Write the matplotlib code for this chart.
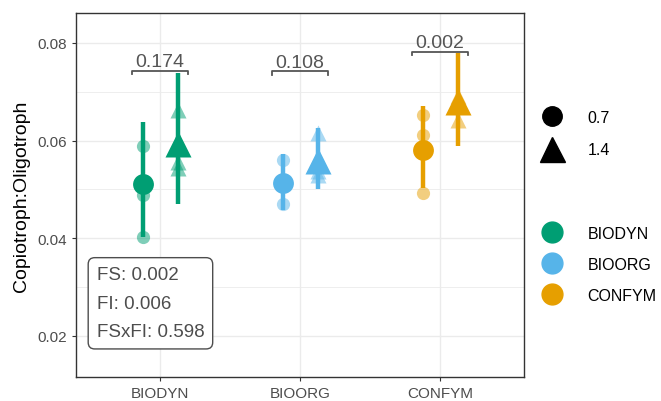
import numpy as np
import matplotlib.pyplot as plt
from matplotlib.lines import Line2D
from matplotlib.ticker import MultipleLocator

plt.rcParams['font.family'] = ['Liberation Sans', 'DejaVu Sans']

# data
systems = ["BIODYN", "BIOORG", "CONFYM"]
colors = ["#009E73", "#56B4E9", "#E69F00"]
fi_levels = ["0.7", "1.4"]

# mean per system / level
mean_07 = [0.0510, 0.0512, 0.0580]
mean_14 = [0.0592, 0.0558, 0.0678]
# error bar ends
lo_07 = [0.0402, 0.0458, 0.0502]
hi_07 = [0.0638, 0.0572, 0.0670]
lo_14 = [0.0471, 0.0500, 0.0588]
hi_14 = [0.0738, 0.0625, 0.0779]
# replicate points
reps_07 = [[0.0588, 0.0488, 0.0403], [0.0560, 0.0469, 0.0512], [0.0652, 0.0611, 0.0492]]
reps_14 = [[0.0662, 0.0557, 0.0543], [0.0615, 0.0537, 0.0530], [0.0691, 0.0642, 0.0680]]

# pairwise p-values and bracket heights
pvals = ["0.174", "0.108", "0.002"]
bracket_y = [0.0743, 0.0742, 0.0782]

stats_text = "FS: 0.002\nFI: 0.006\nFSxFI: 0.598"

fig = plt.figure(figsize=(6.61, 4.02), dpi=100)
ax = fig.add_axes([0.115, 0.06, 0.678, 0.905])

dodge = 0.125
xs = np.arange(1, len(systems) + 1)

for i, x in enumerate(xs):
    c = colors[i]
    # 0.7 -> circles
    ax.plot([x - dodge] * 2, [lo_07[i], hi_07[i]], color=c, lw=3.2, solid_capstyle='butt', zorder=3)
    ax.plot([x - dodge] * len(reps_07[i]), reps_07[i], 'o', color=c, alpha=0.5, ms=9.5, mec='none', zorder=2)
    ax.plot(x - dodge, mean_07[i], 'o', color=c, ms=15, mec='none', zorder=4)
    # 1.4 -> triangles
    ax.plot([x + dodge] * 2, [lo_14[i], hi_14[i]], color=c, lw=3.2, solid_capstyle='butt', zorder=3)
    ax.plot([x + dodge] * len(reps_14[i]), reps_14[i], '^', color=c, alpha=0.5, ms=12, mec='none', zorder=2)
    ax.plot(x + dodge, mean_14[i], '^', color=c, ms=19, mec='none', zorder=4)

    # comparison bracket
    by = bracket_y[i]
    tick = 0.0007
    ax.plot([x - 0.2, x - 0.2, x + 0.2, x + 0.2], [by - tick, by, by, by - tick],
            color="#555555", lw=1.3, zorder=5)
    ax.text(x, by + 0.0001, pvals[i], ha='center', va='bottom', fontsize=14,
            color="#555555", zorder=5)

ax.text(0.046, 0.1, stats_text, transform=ax.transAxes, ha='left', va='bottom',
        fontsize=13.5, color="#4D4D4D", linespacing=1.9,
        bbox=dict(boxstyle="round,pad=0.45,rounding_size=0.35", fc="white", ec="#4D4D4D", lw=1.0))

ax.set_xlim(0.4, 3.6)
ax.set_ylim(0.0116, 0.0861)
ax.set_xticks(xs)
ax.set_xticklabels(systems)
ax.yaxis.set_major_locator(MultipleLocator(0.02))
ax.yaxis.set_minor_locator(MultipleLocator(0.01))
ax.yaxis.set_major_formatter(plt.FuncFormatter(lambda v, p: f"{v:.2f}"))
ax.set_ylabel("Copiotroph:Oligotroph", fontsize=14, labelpad=5)

ax.grid(True, which='major', color="#EBEBEB", lw=1.0, zorder=0)
ax.grid(True, which='minor', axis='y', color="#EBEBEB", lw=0.6, zorder=0)
ax.tick_params(which='major', length=3, color="#333333", labelcolor="#4D4D4D", labelsize=11, width=0.8)
ax.tick_params(which='minor', length=0)
ax.set_axisbelow(True)
for s in ax.spines.values():
    s.set_color("#333333")
    s.set_linewidth(1.0)

# legends
shape_handles = [Line2D([], [], ls='none', marker='o', color='black', ms=14),
                 Line2D([], [], ls='none', marker='^', color='black', ms=18)]
leg1 = fig.legend(shape_handles, fi_levels, loc='upper left', bbox_to_anchor=(0.797, 0.76),
                  frameon=False, fontsize=11.5, labelspacing=1.1, handletextpad=1.5, handlelength=1.4)
color_handles = [Line2D([], [], ls='none', marker='o', color=c, ms=15) for c in colors]
leg2 = fig.legend(color_handles, systems, loc='upper left', bbox_to_anchor=(0.797, 0.472),
                  frameon=False, fontsize=11.5, labelspacing=1.0, handletextpad=1.5, handlelength=1.4)

fig.savefig("out.png", dpi=100)
